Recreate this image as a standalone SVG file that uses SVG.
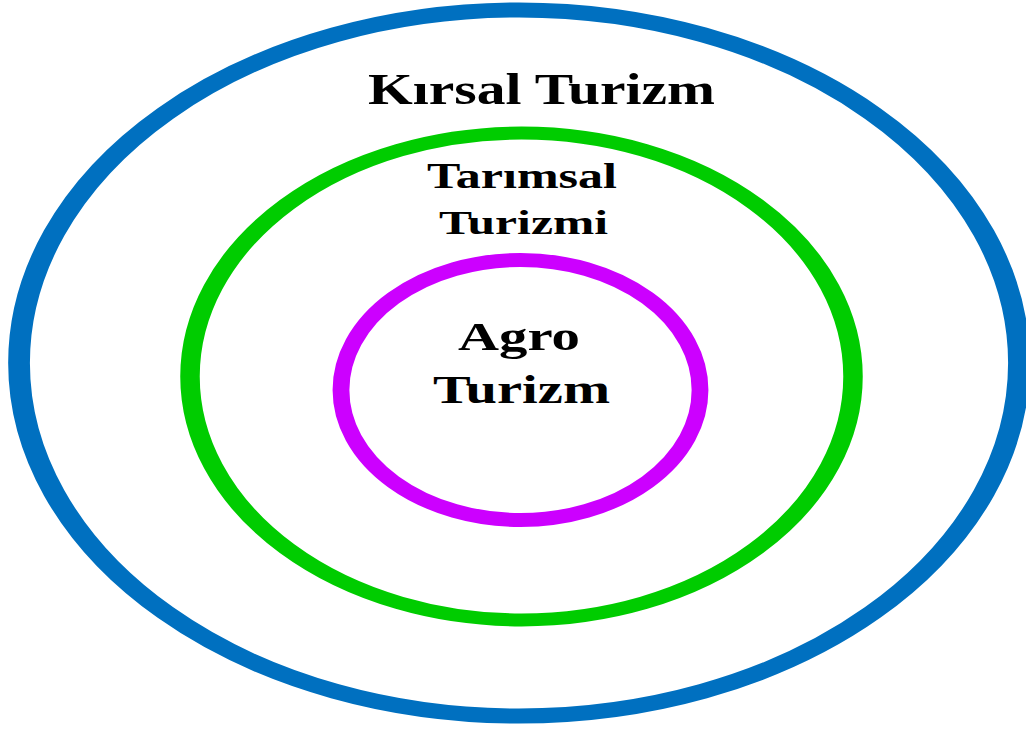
<svg xmlns="http://www.w3.org/2000/svg" width="1026" height="731" viewBox="0 0 1026 731">
<style>
.lbl{font-family:"Liberation Serif","Times New Roman",serif;font-weight:bold;fill:#000;}
.ring{fill:none;}
</style>
<rect width="1026" height="731" fill="#fff"/>
<g id="kirsal">
<ellipse class="ring" transform="translate(519,363) scale(1.45,1)" cx="0" cy="0" rx="344.8" ry="353" stroke="#0070C0" stroke-width="15"/>
<text class="lbl" x="368" y="104" font-size="44" textLength="347" lengthAdjust="spacingAndGlyphs">Kırsal Turizm</text>
</g>
<g id="tarimsal">
<ellipse class="ring" transform="translate(521.5,376.5) scale(1.5,1)" cx="0" cy="0" rx="221" ry="243.5" stroke="#00CC00" stroke-width="13"/>
<text class="lbl" x="427" y="188" font-size="35" textLength="190" lengthAdjust="spacingAndGlyphs">Tarımsal</text>
<text class="lbl" x="439" y="234" font-size="34" textLength="169" lengthAdjust="spacingAndGlyphs">Turizmi</text>
</g>
<g id="agro">
<ellipse class="ring" transform="translate(520.5,390) scale(1.2,1)" cx="0" cy="0" rx="149.6" ry="130" stroke="#CC00FF" stroke-width="14"/>
<text class="lbl" x="458" y="350" font-size="41" textLength="122" lengthAdjust="spacingAndGlyphs">Agro</text>
<text class="lbl" x="433" y="403" font-size="40" textLength="177" lengthAdjust="spacingAndGlyphs">Turizm</text>
</g>
<g id="connectors"></g>
</svg>
